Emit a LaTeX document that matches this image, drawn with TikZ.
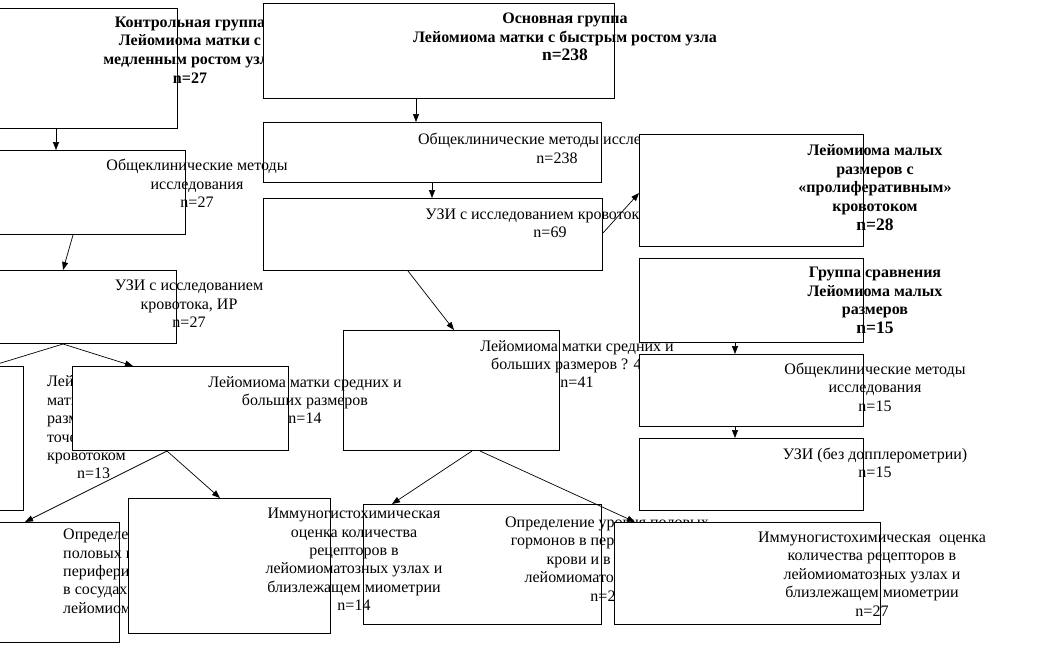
\documentclass[tikz,border=0pt]{standalone}
\usepackage{fontspec}
\setmainfont{Liberation Serif}
\usetikzlibrary{arrows.meta}
\tikzset{
    box/.style={draw, fill=white, line width=1pt, inner sep=0pt, anchor=north west},
    txt/.style={align=center, inner sep=0pt, font=\fontsize{16}{18.4}\selectfont},
    btxt/.style={txt, font=\fontsize{16}{18.6}\selectfont\bfseries},
    ltxt/.style={txt, align=left, anchor=west},
    arr/.style={-{Triangle[length=8pt,width=6pt]}, line width=0.7pt}
}
\newcommand{\bign}[1]{{\fontsize{17.5}{18.6}\selectfont #1}}
\begin{document}
\begin{tikzpicture}[x=1pt,y=-1pt]
    % Frame: one pixel of the reference is one point
    \clip (0,0) rectangle (1044,646);
    \fill [white] (0,0) rectangle (1044,646);

    % Top row: the two groups
    \node [box, minimum width=297, minimum height=120] (kontrol) at (-120,8) {};
    \node [btxt] (kontrolT) at (190,50) {Контрольная группа\\Лейомиома матки с\\медленным ростом узла\\n=27};
    \node [box, minimum width=351, minimum height=95] (osnov) at (263,3) {};
    \node [btxt] (osnovT) at (565,37) {Основная группа\\Лейомиома матки с быстрым ростом узла\\\bign{n=238}};

    % Main group, middle column
    \node [box, minimum width=338, minimum height=60] (obsh238) at (263,122) {};
    \node [txt] (obsh238T) at (557,148.5) {Общеклинические методы исследования\\n=238};
    % Control group, left column (drawn over the middle column)
    \node [box, minimum width=305, minimum height=84] (obsh27) at (-120,150) {};
    \node [txt] (obsh27T) at (197,183.5) {Общеклинические методы\\исследования\\n=27};
    \node [box, minimum width=339, minimum height=72] (uzi69) at (263,198) {};
    \node [txt] (uzi69T) at (550,223) {УЗИ с исследованием кровотока, ИР\\n=69};
    \node [box, minimum width=296, minimum height=73] (uzi27) at (-120,270) {};
    \node [txt] (uzi27T) at (189,304) {УЗИ с исследованием\\кровотока, ИР\\n=27};

    % Right column
    \node [box, minimum width=224, minimum height=112] (prolif) at (639,134) {};
    \node [btxt] (prolifT) at (875,187.5) {Лейомиома малых\\размеров с\\«пролиферативным»\\кровотоком\\\bign{n=28}};
    \node [box, minimum width=224, minimum height=84] (sravn) at (639,258) {};
    \node [btxt] (sravnT) at (875,300.5) {Группа сравнения\\Лейомиома малых\\размеров\\\bign{n=15}};

    % Middle row
    \node [box, minimum width=163, minimum height=144] (maly13) at (-140,366) {};
    \node [ltxt] (maly13T) at (47,427.5) {Лейомиома\\матки малых\\размеров с\\точечным\\кровотоком\\\hspace*{30pt}n=13};
    \node [box, minimum width=216, minimum height=120] (sred41) at (343,330) {};
    \node [txt] (sred41T) at (577,364) {Лейомиома матки средних и\\больших размеров ? 4 см\\n=41};
    \node [box, minimum width=216, minimum height=84] (sred14) at (72,366) {};
    \node [txt] (sred14T) at (305,400) {Лейомиома матки средних и\\больших размеров\\n=14};
    \node [box, minimum width=224, minimum height=72] (obsh15) at (639,354) {};
    \node [txt] (obsh15T) at (875,387) {Общеклинические методы\\исследования\\n=15};
    \node [box, minimum width=224, minimum height=72] (uzi15) at (639,438) {};
    \node [txt] (uzi15T) at (875,463) {УЗИ (без допплерометрии)\\n=15};

    % Bottom row
    \node [box, minimum width=239, minimum height=120] (opr13) at (-120,522) {};
    \node [ltxt] (opr13T) at (63,573) {Определение уровня\\половых гормонов в\\периферической крови и\\в сосудах\\лейомиоматозных узлов};
    \node [box, minimum width=238, minimum height=120] (opr27) at (363,504) {};
    \node [txt] (opr27T) at (607,559) {Определение уровня половых\\гормонов в периферической\\крови и в сосудах\\лейомиоматозных узлов\\n=27};
    \node [box, minimum width=202, minimum height=135] (imm14) at (128,498) {};
    \node [txt] (imm14T) at (354,559.5) {Иммуногистохимическая\\оценка количества\\рецепторов в\\лейомиоматозных узлах и\\близлежащем миометрии\\n=14};
    \node [box, minimum width=266, minimum height=102] (imm27) at (614,522) {};
    \node [txt] (imm27T) at (872,574) {Иммуногистохимическая\ \ оценка\\количества рецепторов в\\лейомиоматозных узлах и\\близлежащем миометрии\\n=27};

    % Connectors
    \draw [arr] ([xshift=176pt]kontrol.south west) -- ([xshift=176pt]obsh27.north west);
    \draw [arr] ([xshift=193pt]obsh27.south west) -- ([xshift=183pt]uzi27.north west);
    \draw [arr] ([xshift=183pt]uzi27.south west) -- ([xshift=61pt]sred14.north west);
    \draw [arr] ([xshift=183pt]uzi27.south west) -- ([xshift=131pt]maly13.north west);
    \draw [arr] ([xshift=95pt]sred14.south west) -- ([xshift=145pt]opr13.north west);
    \draw [arr] ([xshift=95pt]sred14.south west) -- ([xshift=92pt]imm14.north west);

    \draw [arr] ([xshift=153pt]osnov.south west) -- ([xshift=153pt]obsh238.north west);
    \draw [arr] ([xshift=169pt]obsh238.south west) -- ([xshift=169pt]uzi69.north west);
    \draw [arr] ([yshift=-35pt]uzi69.north east) -- ([yshift=-59pt]prolif.north west);
    \draw [arr] ([xshift=145pt]uzi69.south west) -- ([xshift=111pt]sred41.north west);
    \draw [arr] ([xshift=129pt]sred41.south west) -- ([xshift=29pt]opr27.north west);
    \draw [arr] ([xshift=137pt]sred41.south west) -- ([xshift=21pt]imm27.north west);

    \draw [arr] ([xshift=96pt]sravn.south west) -- ([xshift=96pt]obsh15.north west);
    \draw [arr] ([xshift=96pt]obsh15.south west) -- ([xshift=96pt]uzi15.north west);
\end{tikzpicture}
\end{document}
